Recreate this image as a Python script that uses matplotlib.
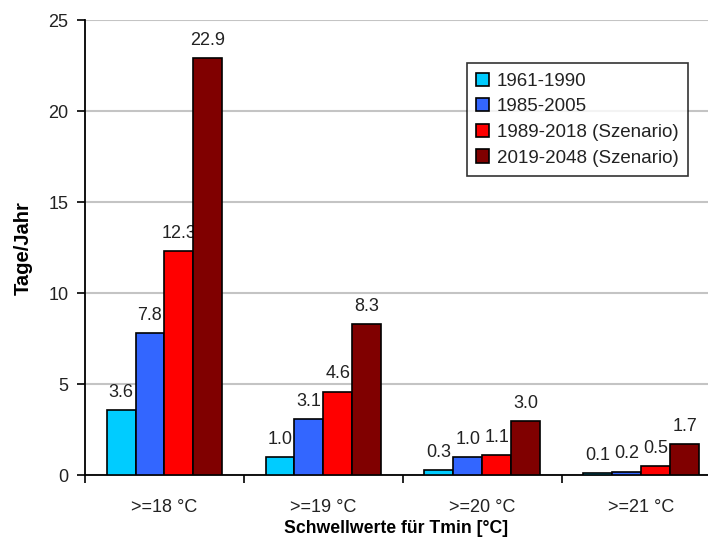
import numpy as np
import matplotlib.pyplot as plt

# ============================================
# DATA
# ============================================

categories = [">=18 °C", ">=19 °C", ">=20 °C", ">=21 °C"]
series_names = ["1961-1990", "1985-2005", "1989-2018 (Szenario)", "2019-2048 (Szenario)"]
v_1961_1990 = [3.6, 1.0, 0.3, 0.1]
v_1985_2005 = [7.8, 3.1, 1.0, 0.2]
v_1989_2018 = [12.3, 4.6, 1.1, 0.5]
v_2019_2048 = [22.9, 8.3, 3.0, 1.7]
colors = ["#00CCFF", "#3366FF", "#FF0000", "#800000"]

plt.rcParams["font.family"] = ["Liberation Sans", "DejaVu Sans"]

# ============================================
# PLOT
# ============================================

fig = plt.figure(figsize=(7.08, 5.45), dpi=100)
ax = fig.add_axes([0.120, 0.128, 0.880, 0.835])

x = np.arange(len(categories))
width = 0.182
all_series = [v_1961_1990, v_1985_2005, v_1989_2018, v_2019_2048]

for i, (vals, name, col) in enumerate(zip(all_series, series_names, colors)):
    pos = x + (i - 1.5) * width
    bars = ax.bar(pos, vals, width, color=col, edgecolor="black",
                  linewidth=1.2, label=name, zorder=3)
    for bar in bars:
        h = bar.get_height()
        ax.text(bar.get_x() + bar.get_width() / 2, h + 0.5, f"{h:.1f}",
                ha="center", va="bottom", fontsize=13, color="#222222")

ax.set_yticks([0, 5, 10, 15, 20, 25])
ax.yaxis.grid(True, color="#c4c4c4", linewidth=1.5, zorder=0)
ax.set_axisbelow(True)

ax.set_xticks(x)
ax.set_xticklabels(categories)
ax.set_xticks(np.arange(-0.5, 3.0, 1.0), minor=True)
ax.set_xlim(-0.5, 3.42)
ax.set_ylim(0, 25)

ax.tick_params(axis="x", which="major", length=0, pad=17, labelsize=13,
               labelcolor="#222222")
ax.tick_params(axis="x", which="minor", length=6, width=1.2, direction="out")
ax.tick_params(axis="y", length=6, width=1.2, direction="out", labelsize=13,
               labelcolor="#222222", pad=6)

for s in ["top", "right"]:
    ax.spines[s].set_visible(False)
for s in ["left", "bottom"]:
    ax.spines[s].set_linewidth(1.3)

ax.set_ylabel("Tage/Jahr", fontsize=14.5, fontweight="bold", labelpad=11)
ax.set_xlabel("Schwellwerte für Tmin [°C]", fontsize=12.7, fontweight="bold",
              labelpad=3)

leg = ax.legend(loc="upper right", bbox_to_anchor=(0.968, 0.905), fontsize=13.5,
                frameon=True, fancybox=False, edgecolor="black",
                handlelength=0.7, handleheight=0.7, handletextpad=0.4,
                labelspacing=0.45, borderpad=0.5, borderaxespad=0)
leg.get_frame().set_linewidth(1.2)
for t in leg.get_texts():
    t.set_color("#222222")

plt.savefig("out.png", dpi=100)
plt.close()
